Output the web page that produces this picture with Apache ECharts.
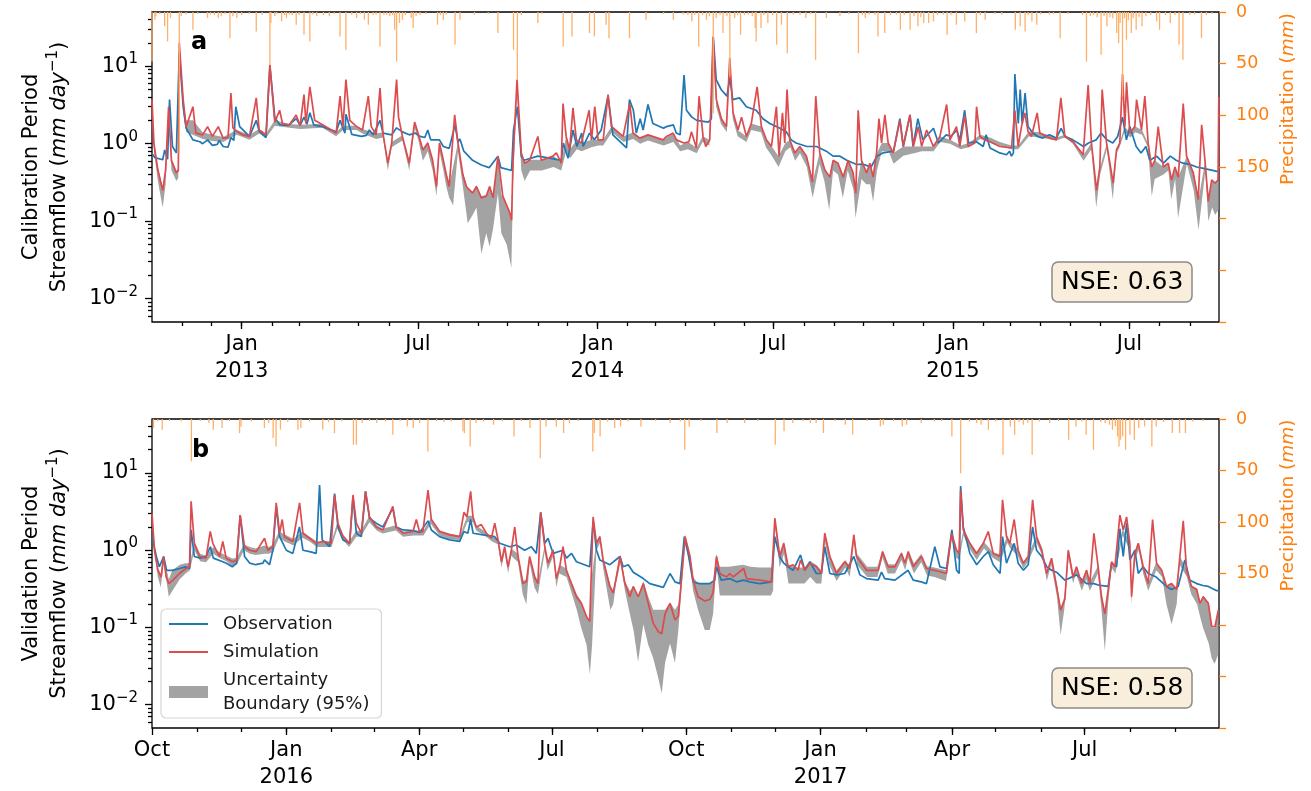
<!DOCTYPE html>
<html lang="en">
<head>
<meta charset="UTF-8">
<title>Streamflow - calibration and validation</title>
<script src="https://cdn.jsdelivr.net/npm/echarts@6/dist/echarts.min.js"></script>
<style>
  html, body { margin: 0; padding: 0; background: #fff; }
  #chart { width: 1311px; height: 791px; }
</style>
</head>
<body>
<div id="chart"></div>
<script>
const DAY = 86400000;
const startA = Date.parse('2012-10-01'), endA = Date.parse('2015-10-01');
const startB = Date.parse('2015-10-01'), endB = Date.parse('2017-10-01');

// streamflow, [day since period start, mm/day]
const obsA = [[0,0.75],[3,0.66],[11,0.62],[13,0.83],[16,0.63],[18,3.7],[21,0.92],[25,0.76],[27,0.76],[28,15],[32,3.0],[35,1.6],[42,1.12],[49,1.06],[52,1.0],[57,1.12],[62,0.95],[67,0.98],[69,1.1],[73,0.92],[78,0.9],[81,1.2],[84,1.1],[86,3.0],[90,1.66],[100,1.24],[107,2.0],[110,1.45],[117,1.2],[119,1.22],[121,10],[126,2.2],[131,1.75],[140,1.72],[148,2.1],[152,1.72],[156,2.2],[159,1.78],[162,2.5],[166,1.75],[175,1.66],[189,1.42],[193,2.0],[198,1.37],[199,2.4],[205,1.32],[215,1.24],[220,1.28],[223,1.5],[227,1.3],[234,2.0],[237,1.37],[246,1.3],[251,1.6],[257,1.42],[264,1.3],[270,1.37],[275,1.24],[280,1.2],[283,1.5],[286,1.12],[295,1.12],[299,0.92],[305,0.87],[311,1.75],[314,1.05],[316,1.15],[320,0.8],[329,0.61],[338,0.53],[346,0.49],[355,0.69],[358,0.49],[369,0.45],[371,1.5],[375,3.0],[379,0.69],[382,0.61],[396,0.69],[408,0.65],[420,0.61],[422,1.02],[427,0.65],[432,1.5],[436,0.92],[441,1.37],[442.5,0.92],[449,1.37],[454,1.12],[461,1.5],[468,4.1],[473,1.3],[487,0.88],[490,3.7],[494,2.7],[497,1.37],[501,2.1],[504,1.5],[509,3.2],[514,1.82],[525,1.58],[528,1.66],[535,1.75],[538,1.37],[542,1.3],[546,7.7],[548.5,2.7],[554,2.2],[559,2.0],[571,1.9],[574,2.1],[576,24],[579,6.7],[584,5.0],[590,4.1],[593,7.0],[596,3.7],[603,3.9],[610,3.0],[620,2.7],[627,2.1],[634,1.82],[641,1.66],[651,1.42],[656,1.12],[661,1.02],[672,0.92],[682,0.92],[692,0.8],[699,0.69],[706,0.69],[713,0.61],[723,0.54],[730,0.54],[738,0.5],[744,0.69],[750,0.76],[761,0.8],[767.5,2.1],[771,0.92],[778,2.35],[781,0.92],[786,2.1],[791,1.12],[802,1.58],[807,1.02],[815,1.3],[820,1.24],[826,1.5],[829,1.1],[834,2.7],[838,1.02],[846,1.06],[853,0.92],[856,1.3],[860,0.88],[870,0.76],[877,0.72],[880,0.8],[882,0.69],[884,0.76],[885.5,7.9],[889,1.82],[891,5.0],[893,1.82],[896,4.5],[899,1.66],[904,1.37],[909,1.24],[914,1.18],[921,1.3],[928,1.18],[933,1.58],[937,1.24],[945,1.12],[956,0.92],[961,1.02],[969,1.12],[974,1.37],[980,1.12],[986,1.02],[991,1.24],[996,2.2],[1000,1.12],[1003.5,1.66],[1010,0.92],[1015,0.76],[1020,0.92],[1024,0.61],[1031,0.69],[1038,0.56],[1045,0.69],[1051,0.61],[1058,0.56],[1065,0.54],[1072,0.5],[1079,0.48],[1086,0.46],[1093,0.44],[1095,0.44]];

const simA = [[0,3.7],[2,1.0],[6,0.46],[11,0.25],[14,0.46],[17,3.0],[20,0.6],[25,0.42],[27,0.45],[28,20],[32,3.7],[35,1.64],[42,3.0],[45,1.37],[52,1.3],[57,1.66],[62,1.24],[68,1.66],[73,1.18],[78,1.2],[81,4.5],[83,1.6],[87,1.45],[93,1.3],[100,1.24],[107,3.9],[110,1.5],[117,1.3],[121,10.4],[126,1.9],[131,2.7],[134,1.8],[141,1.75],[148,2.35],[152,1.7],[156,4.3],[158,1.82],[162,5.4],[167,2.0],[175,1.75],[189,1.37],[193,4.1],[196,1.66],[199,6.7],[203,2.0],[210,1.66],[216,1.5],[222,4.1],[225,1.66],[230,1.3],[234,5.2],[237,1.37],[242,0.56],[246,1.02],[251,6.7],[253,2.2],[257,1.24],[264,0.56],[269.5,1.9],[273,1.37],[278,0.83],[283,1.02],[288,0.61],[292,0.28],[295,1.02],[299,0.61],[302,0.4],[305,0.28],[310.6,2.35],[314,1.02],[319,0.4],[322.5,0.28],[329,0.23],[333,0.28],[338,0.2],[343,0.21],[346.5,0.28],[350,0.2],[355,0.69],[360,0.21],[367,0.13],[369,0.103],[370.5,0.61],[374.6,6.7],[379,0.76],[382.4,0.56],[387.6,0.61],[396,1.24],[399.5,0.61],[411.5,0.69],[415,0.76],[420,0.56],[421.8,3.3],[425,1.24],[428.6,0.83],[432,2.9],[435.5,1.12],[440.7,1.02],[448.6,2.7],[451,1.12],[454.4,3.0],[457.8,1.12],[463,1.12],[468,4.3],[471.5,1.66],[483.5,1.24],[490.3,3.3],[493.7,1.37],[500.6,1.18],[509,1.3],[524.6,1.12],[528,1.24],[534.8,1.37],[538.2,1.12],[545.8,1.02],[551,1.06],[553.6,1.42],[558.7,0.88],[561.4,4.1],[565.5,1.24],[568.3,0.92],[572.4,1.12],[575.8,24],[579.2,3.7],[584.3,2.1],[589.5,1.66],[592.9,12.7],[596.3,2.5],[601.4,1.5],[605,2.2],[610,1.24],[615,1.82],[621,5.4],[625.4,1.66],[630.5,1.12],[635.7,0.92],[640.8,3.0],[643.5,0.69],[647,2.5],[649.4,1.02],[651.7,5.0],[654.5,1.12],[659.6,0.76],[664.8,0.92],[671.6,0.69],[677.8,0.32],[681.2,4.1],[685.3,0.76],[690.4,0.46],[695.6,0.37],[699,0.61],[704,0.56],[709.3,0.37],[714.4,0.61],[719.5,0.42],[722.3,0.23],[724.7,2.7],[728.1,0.61],[733.3,0.42],[736.7,0.56],[740.1,0.37],[743.6,0.76],[746,2.1],[748.7,1.02],[752.1,2.35],[755.5,1.02],[760.7,0.76],[767.5,2.0],[770.9,0.92],[777.8,2.35],[781.3,0.92],[786.4,1.66],[789.8,0.92],[795,1.5],[801.8,0.92],[808.6,1.24],[815.5,3.2],[818.9,1.12],[825.6,1.66],[829,0.92],[834.2,2.35],[837.6,0.92],[844.5,1.02],[846.2,3.0],[849.6,1.24],[854.7,1.12],[859.9,1.06],[870.1,0.92],[882,0.88],[885.5,2.7],[888.9,0.92],[892.3,1.66],[895.7,2.5],[899.1,1.42],[902.5,1.24],[908.4,2.5],[911.1,1.37],[921.4,1.18],[928.2,1.12],[932.7,3.9],[936.8,1.24],[945.3,1.06],[955.6,0.72],[960.7,5.7],[964.1,1.02],[969.3,0.25],[972.7,0.5],[975.1,5.0],[979.6,1.02],[986.4,0.31],[989.8,0.83],[993.2,1.02],[996,7.9],[998.4,1.66],[1000.1,6.2],[1003.5,1.37],[1008.6,1.66],[1010.4,3.7],[1015.5,1.5],[1018.9,4.1],[1022.3,1.02],[1025.8,0.5],[1029.2,0.61],[1032.6,1.66],[1037.8,0.5],[1042.9,0.56],[1046.3,0.34],[1049.8,0.5],[1053.2,0.37],[1058.3,3.3],[1061.7,0.69],[1068.6,0.42],[1073.7,0.19],[1077.2,1.75],[1080.6,0.61],[1084,0.18],[1087.5,0.34],[1090.9,0.31],[1094,0.34],[1094.8,4.0]];

// 95% uncertainty boundary, [day, lower, upper]
const bandA = [[0,2.5,3.7],[2,0.8,1.05],[6,0.33,0.5],[11,0.15,0.27],[14,0.3,0.5],[17,2.5,3.0],[20,0.45,0.65],[25,0.33,0.45],[27,0.36,0.48],[28,15,20],[32,2.5,3.9],[35,1.4,2.0],[42,1.3,2.0],[52,1.15,1.4],[62,1.08,1.3],[73,1.05,1.22],[87,1.3,1.5],[100,1.12,1.3],[110,1.35,1.55],[117,1.18,1.35],[126,1.7,2.0],[141,1.6,1.8],[152,1.55,1.75],[175,1.6,1.8],[189,1.25,1.4],[196,1.5,1.7],[210,1.5,1.7],[216,1.35,1.55],[230,1.15,1.35],[237,1.2,1.4],[242,0.45,0.6],[246,0.9,1.05],[257,1.1,1.28],[264,0.45,0.6],[269.5,1.6,1.95],[273,1.15,1.4],[278,0.6,0.86],[283,0.8,1.05],[288,0.45,0.63],[292,0.21,0.3],[295,0.8,1.05],[299,0.45,0.63],[302,0.28,0.42],[305,0.2,0.3],[309,0.16,0.5],[314,0.8,1.05],[319,0.28,0.42],[324,0.094,0.27],[329,0.12,0.24],[333,0.15,0.29],[338,0.038,0.21],[343,0.07,0.22],[346.5,0.047,0.29],[350,0.08,0.21],[355,0.23,0.7],[358.5,0.07,0.22],[364,0.05,0.16],[368.8,0.025,0.12],[370.5,0.3,0.62],[374.6,5,6.7],[379,0.45,0.78],[382.4,0.33,0.57],[388,0.45,0.62],[400,0.45,0.62],[412,0.5,0.7],[420,0.45,0.57],[425,0.8,1.25],[429,0.65,0.85],[436,0.85,1.12],[441,0.8,1.02],[451,0.9,1.12],[458,0.95,1.12],[463,0.95,1.12],[472,1.4,1.7],[484,1.05,1.25],[494,1.15,1.4],[501,1.0,1.2],[509,1.1,1.3],[525,0.95,1.12],[535,1.05,1.37],[542,0.8,0.95],[550,0.85,1.06],[559,0.75,0.88],[565,1.05,1.25],[572,0.95,1.12],[575.8,18,24],[579,3.0,3.7],[584,1.8,2.1],[590,1.4,1.66],[593,10,12.7],[596,2.1,2.5],[601,1.25,1.5],[610,1.05,1.24],[615,1.5,1.82],[625,1.4,1.66],[630,0.9,1.12],[636,0.7,0.92],[643,0.5,0.69],[650,0.8,1.02],[655,0.9,1.12],[660,0.6,0.76],[665,0.75,0.92],[672,0.5,0.69],[678,0.2,0.32],[685,0.55,0.76],[690,0.33,0.46],[695,0.14,0.37],[699,0.45,0.61],[704,0.4,0.56],[709,0.2,0.37],[714,0.45,0.61],[720,0.25,0.42],[722,0.11,0.23],[728,0.35,0.61],[733,0.3,0.42],[737,0.3,0.56],[740,0.18,0.37],[744,0.45,0.76],[749,0.8,1.02],[756,0.8,1.02],[761,0.55,0.76],[771,0.7,0.92],[782,0.75,0.92],[790,0.8,0.92],[802,0.8,0.92],[809,1.05,1.24],[819,1.0,1.12],[830,0.85,0.95],[838,0.9,1.02],[850,1.15,1.3],[860,1.05,1.2],[870,0.95,1.05],[882,0.85,0.95],[889,0.85,0.95],[900,1.25,1.45],[911,1.2,1.4],[928,1.1,1.2],[937,1.2,1.3],[945,1.0,1.1],[956,0.6,0.72],[964,0.85,1.02],[969,0.15,0.25],[973,0.4,0.5],[980,0.85,1.02],[986,0.19,0.31],[990,0.75,0.88],[993,0.9,1.02],[998,1.4,1.66],[1004,1.2,1.37],[1009,1.4,1.66],[1016,1.3,1.5],[1022,0.9,1.02],[1026,0.21,0.5],[1029,0.35,0.61],[1038,0.4,0.5],[1043,0.45,0.56],[1046,0.19,0.34],[1050,0.35,0.5],[1053,0.11,0.37],[1062,0.55,0.69],[1069,0.25,0.42],[1074,0.077,0.19],[1081,0.45,0.61],[1084,0.1,0.18],[1088,0.15,0.34],[1091,0.12,0.31],[1094.5,0.14,0.34]];

// daily precipitation, [day, mm]
const rainA = [[0,48],[3,7.5],[4,4.2],[8,2],[13,13.9],[16,28.5],[19,5.8],[28,137],[30,4.2],[35,2.5],[42,17.2],[47,2],[57,5.8],[60,2.5],[64,3],[68,5.8],[71,4.2],[75,2],[80,25.3],[83,4.2],[87,5.8],[92,3],[100,2],[107,18.8],[113,3],[121,51],[122,10.7],[126,4],[128,2],[133,9.1],[136,3],[138,5.8],[141,2.5],[144,3],[148,12.3],[151,3],[156,22],[162,28.5],[165,2.5],[169,4.2],[176,3],[182,4.2],[187,2],[193,23.6],[199,36.6],[205,3],[210,5.8],[214,2],[218,7.5],[222,12.3],[227,3],[230,2.5],[234,33.3],[238,3],[241,2.5],[244,4.2],[247,3],[249,17.2],[251,48],[254,10.7],[257,7.5],[260,3],[266,5.8],[268,15.6],[271,4.2],[275,2.6],[281,2],[293,12.3],[296,3],[299,7.5],[302,2.5],[311,31.7],[316,7.5],[331,2.6],[345,2],[355,20.4],[371,36.6],[375,66],[379,3],[396,10.7],[400,2],[422,33.3],[431,23.6],[449,20.4],[454,23.6],[466,12.3],[469,25.3],[490,25.3],[507,7.5],[525,2],[535,7.5],[545,2.5],[550,3],[554,9.1],[557,3],[561,33.3],[565,3],[569,7.5],[572,4],[576,98],[579,5.8],[583,3],[586,20.4],[590,4],[593,62],[598,5.8],[601,3],[604,22],[608,3],[612,2.5],[616,4],[619,15.6],[620,28.5],[625,15.6],[628,3],[632,10.7],[637,3],[641,31.7],[646,12.3],[652,39.8],[658,2.5],[665,3],[671,5.8],[676,2],[681,46.3],[692,5.8],[706,4.2],[715,2],[725,39.8],[729,3],[732,5.8],[736,2.5],[742,3],[745,23.6],[752,20.4],[758,3],[764,2.5],[768,17.2],[772,3],[778,17.2],[782,4],[786,13.9],[789,5],[792,10.7],[797,10.7],[802,9.1],[806,3],[812,2.5],[816,22],[820,3],[825.5,12.3],[834,9.1],[846,20.4],[850,3],[855,7.5],[865,2],[872,2.5],[886,17.2],[891,13.9],[896,18.8],[899,3],[903,9.1],[908,12.3],[912,2.5],[921,2.6],[925,2],[932,25.3],[940,2],[955,3],[959,48],[963,4],[966,3],[970,5],[974,41.4],[977,4],[980,13.9],[983,5],[986,6],[990,20.4],[992,30.1],[993.5,10.7],[996,82],[998,6],[1000,26.8],[1002,8],[1005,20.4],[1007,6],[1010,17.2],[1013,5],[1016,13.9],[1020,4],[1025,3],[1031,9.1],[1034,17.2],[1040,3],[1045,10.7],[1050,3],[1054,31.7],[1058,46.3],[1065,3],[1070,2.5],[1077,25.3],[1082,3],[1088,2]];

const obsB = [[0,1.5],[3,0.83],[5,0.61],[8,0.83],[10,0.55],[14,0.55],[19,0.58],[23,0.61],[25.7,0.58],[26.8,1.83],[29,0.83],[33,0.79],[37,0.83],[40,1.11],[42,0.79],[48.5,0.71],[51,0.68],[55,0.61],[58,0.68],[60.4,2.85],[63.4,0.83],[67,0.68],[71,0.65],[76,0.68],[77.1,0.75],[80.5,0.65],[82.8,1.0],[85.1,3.7],[87.4,1.5],[89.7,1.23],[92,1.0],[96.5,0.91],[101,2.0],[103.4,1.0],[108,0.96],[112.5,0.91],[114.8,7.0],[116.6,1.36],[119.4,1.23],[121.7,1.11],[125.1,5.4],[127.4,2.0],[130.8,1.36],[135.4,1.23],[137.7,4.9],[140,1.66],[143.4,1.5],[146.3,5.8],[149,2.6],[153.6,2.24],[158.2,2.0],[165,3.5],[167.3,2.0],[172,1.83],[178.8,1.8],[183.4,1.7],[189.1,2.4],[191.4,1.83],[197,1.5],[204,1.36],[210.8,1.3],[213.7,1.75],[216.4,1.66],[218.3,2.5],[220,1.66],[226.8,1.58],[234.8,1.5],[238.2,1.23],[245.1,1.11],[249.6,1.17],[255.3,1.0],[259.9,1.11],[263.3,0.91],[266.3,3.1],[269.1,1.23],[271.3,1.43],[274.8,0.91],[281.6,1.0],[283.9,0.79],[287.4,0.91],[290.8,0.71],[299.9,0.61],[302.2,2.4],[304.5,1.0],[306.8,0.75],[313.7,0.65],[320.6,0.83],[322.8,0.61],[326.3,0.65],[329.7,0.52],[336.6,0.43],[341,0.37],[350.3,0.33],[354.9,0.5],[358.3,0.39],[361.7,0.37],[364.7,1.5],[367.3,0.91],[370.7,0.39],[375,0.37],[382,0.37],[385.5,0.41],[386.7,0.61],[390,0.41],[395.8,0.43],[400.4,0.39],[405.4,0.41],[409.5,0.39],[416.4,0.37],[424.4,0.39],[426.7,1.5],[430,0.83],[432.8,0.68],[435.8,0.61],[439.2,0.55],[444.3,0.87],[447.2,0.55],[450.7,0.71],[455.2,0.5],[458.6,0.5],[460.9,1.11],[464.4,0.5],[469,0.48],[474.6,0.5],[480.8,0.83],[485,0.48],[489.5,0.43],[497.5,0.41],[499.8,0.52],[502,0.43],[509,0.41],[518,0.55],[521.5,0.41],[527,0.39],[530.6,0.37],[536.3,1.11],[539.8,0.61],[544.3,0.58],[548,1.83],[551.2,0.55],[553,0.5],[554,6.8],[555.8,2.0],[560.3,0.91],[565,0.65],[569.5,0.83],[573,0.96],[576.3,0.65],[581,0.5],[582.7,1.5],[585.4,0.68],[590.7,1.23],[593.4,0.68],[597,0.55],[600.3,0.65],[603.3,2.0],[606,1.0],[609.5,0.83],[613,0.61],[616.3,0.55],[619.7,0.52],[625.4,0.41],[633.4,0.48],[640.3,0.37],[645.3,0.37],[649.4,0.35],[655.1,0.34],[657.4,0.68],[660.8,0.61],[663.1,1.9],[665.4,0.83],[667.7,2.24],[670,0.75],[673.4,1.0],[675.7,0.5],[679,0.61],[682.5,0.5],[688,0.45],[695,0.34],[698.5,0.31],[703,0.34],[707.6,0.75],[711,0.41],[715.7,0.37],[720,0.35],[723.7,0.34],[729.4,0.3],[731,0.3]];

const simB = [[0,3.0],[1.7,1.0],[4,0.55],[6.3,0.45],[7.9,0.83],[9.7,0.45],[11.5,0.37],[14.3,0.41],[18.8,0.5],[23.4,0.58],[25.7,0.61],[26.8,4.3],[29,1.23],[32.6,0.83],[37,0.79],[39.9,1.75],[41.7,1.23],[44,1.0],[46.3,0.83],[48.5,1.3],[50.8,0.79],[55.4,0.71],[58,0.75],[60.4,2.85],[63.4,1.11],[66.8,1.0],[71.4,0.96],[77.1,1.43],[79.4,1.0],[82.8,1.11],[85.1,4.1],[87.4,1.66],[89.2,2.5],[90.8,1.5],[96.5,1.3],[101.1,4.1],[103.4,1.66],[108,1.43],[112.5,1.23],[117,1.3],[122.8,1.23],[125.1,5.2],[127.4,2.24],[130.8,1.5],[135.4,1.23],[137.7,5.2],[140,2.24],[143.4,1.66],[146.3,5.8],[149,2.7],[153.6,2.0],[158.2,1.83],[165,3.7],[167.3,2.0],[172,1.66],[178.8,1.75],[181.1,2.5],[183.4,1.7],[185.6,1.75],[189.1,6.0],[191.4,2.5],[197.1,1.75],[203.9,1.58],[210.8,1.5],[213.7,3.1],[215.8,2.7],[218.3,5.8],[219.9,2.7],[222.2,2.0],[225.6,2.15],[229.1,1.66],[232.5,1.43],[234.8,2.24],[237.1,1.36],[239.4,0.71],[241.6,1.11],[243.9,0.61],[246.2,1.0],[248.5,2.0],[250.8,0.83],[254.2,0.37],[256.5,0.39],[258.7,0.83],[262.2,0.45],[264.4,0.37],[266.3,3.1],[269.1,1.11],[271.3,0.68],[274.8,1.0],[277,0.43],[279.3,0.61],[281.6,1.11],[283.9,0.55],[287.4,0.37],[290.8,0.25],[294.2,0.205],[297.7,0.138],[299.9,0.12],[302.2,2.7],[304.5,1.23],[306.8,1.5],[309.1,0.75],[313.7,0.34],[315.9,0.28],[318.2,0.45],[320.6,0.83],[324,0.37],[327.4,0.25],[329.7,0.34],[333.1,0.25],[336.6,0.37],[340,0.205],[343.4,0.113],[346.9,0.088],[349.2,0.083],[351.5,0.15],[354.9,0.205],[358.3,0.125],[360.6,0.14],[362.9,0.45],[365.2,1.5],[368.6,0.83],[370.7,0.41],[374.1,0.25],[378.7,0.22],[382.1,0.23],[384.4,0.28],[386.7,0.83],[389,0.5],[393.6,0.45],[395.8,0.5],[398.1,0.45],[405.4,0.58],[407.3,0.43],[416.4,0.41],[424.4,0.39],[426.7,2.6],[430.1,0.83],[432.8,1.23],[435.8,0.61],[439.2,0.65],[442.6,0.55],[444.3,0.75],[447.2,0.55],[450.7,0.68],[455.2,0.61],[458.6,0.5],[460.9,1.66],[464.4,0.83],[468.9,0.5],[474.6,0.71],[478.1,0.58],[480.8,1.58],[482.6,0.83],[489.5,0.55],[497.5,0.55],[500.5,0.96],[504.4,0.61],[508.9,0.61],[513.5,0.91],[515.8,0.68],[518.1,0.96],[521.5,0.61],[527.2,0.83],[530.6,0.58],[536.3,0.55],[544.3,0.5],[547.8,1.66],[551.2,1.0],[553,0.91],[554,6.0],[555.8,1.83],[560.3,1.23],[564.9,0.91],[569.5,1.23],[572.9,1.75],[576.3,0.91],[580.9,0.83],[582.7,4.5],[585.4,1.5],[587.7,1.23],[590.7,2.5],[593.4,1.0],[596.9,0.68],[600.3,0.83],[603.3,4.5],[606,1.5],[609.5,1.0],[612.9,0.5],[616.3,0.79],[619.7,0.34],[622.5,0.168],[625.4,0.23],[627.7,1.0],[631.1,0.45],[633.4,0.61],[636.8,0.37],[640.3,0.55],[642.5,0.37],[645.3,1.66],[648.2,0.61],[650.5,0.25],[652.8,0.15],[655.1,0.31],[657.4,0.71],[659.7,0.61],[663.1,2.85],[665.4,1.83],[667.7,2.7],[669.9,1.23],[671.1,0.25],[673.4,0.91],[675.7,1.23],[679.1,0.61],[682.5,0.37],[685.5,2.5],[688.2,0.68],[691.7,0.55],[695.1,0.34],[698.5,0.37],[702,0.31],[704.2,0.83],[706.5,2.4],[708.8,0.55],[712.2,0.34],[715.7,0.31],[718,0.205],[720.2,0.25],[723.7,0.205],[726,0.103],[728.3,0.103],[730.5,0.168]];

const bandB = [[0,2.5,3.0],[2,0.85,1.05],[4,0.45,0.6],[6,0.33,0.5],[8,0.7,0.85],[11.5,0.25,0.42],[14,0.3,0.55],[19,0.42,0.65],[23,0.5,0.68],[26,0.55,0.68],[29,1.0,1.3],[33,0.72,0.9],[37,0.7,0.85],[42,0.9,1.1],[46,0.8,0.95],[51,0.72,0.85],[55,0.62,0.78],[58,0.65,0.8],[63,1.0,1.2],[67,0.9,1.1],[71,0.87,1.05],[77,0.9,1.15],[80,0.9,1.1],[83,0.95,1.2],[87,1.45,1.75],[91,1.3,1.6],[97,1.15,1.4],[103,1.45,1.75],[108,1.3,1.5],[113,1.1,1.3],[117,1.1,1.3],[123,1.1,1.3],[127,1.9,2.3],[131,1.35,1.6],[135,1.1,1.3],[140,1.5,1.8],[143,1.5,1.75],[149,2.3,2.8],[154,1.8,2.1],[158,1.65,1.9],[167,1.8,2.1],[172,1.5,1.75],[179,1.55,1.8],[186,1.55,1.8],[191,2.2,2.6],[197,1.55,1.8],[204,1.4,1.65],[211,1.35,1.55],[216,2.3,2.8],[220,2.3,2.8],[222,1.8,2.1],[229,1.5,1.7],[233,1.3,1.5],[237,1.2,1.4],[239.4,0.6,0.75],[241.6,0.95,1.15],[244,0.5,0.65],[246,0.85,1.05],[250.8,0.7,0.9],[254,0.27,0.4],[256.5,0.2,0.42],[258.7,0.7,0.85],[262,0.33,0.48],[264.4,0.27,0.4],[269,0.95,1.15],[271,0.55,0.72],[275,0.85,1.05],[277,0.33,0.45],[279,0.5,0.65],[284,0.45,0.58],[287,0.3,0.4],[291,0.17,0.27],[294,0.1,0.22],[297.7,0.06,0.14],[300,0.025,0.12],[301.5,0.06,0.5],[304.5,1.0,1.3],[307,1.25,1.55],[309,0.6,0.8],[314,0.17,0.35],[316,0.2,0.3],[318,0.38,0.5],[321,0.7,0.88],[324,0.3,0.4],[327.4,0.15,0.3],[330,0.09,0.34],[333,0.036,0.25],[336.6,0.11,0.4],[340,0.06,0.25],[343.4,0.04,0.17],[346.9,0.022,0.17],[349.2,0.014,0.17],[351.5,0.035,0.17],[354.9,0.062,0.21],[358.3,0.035,0.17],[360.6,0.093,0.2],[362.9,0.35,0.5],[365.2,1.2,1.6],[368.6,0.65,0.9],[370.7,0.3,0.45],[374.1,0.17,0.37],[378.7,0.093,0.37],[382.1,0.093,0.37],[384.4,0.15,0.4],[386.7,0.65,0.9],[389,0.26,0.61],[395,0.26,0.61],[405,0.26,0.65],[410,0.26,0.61],[416,0.26,0.6],[424,0.26,0.6],[425.5,0.3,0.6],[426.7,2.1,2.7],[430,0.6,0.9],[433,0.9,1.3],[436,0.37,0.65],[442.6,0.37,0.6],[447,0.37,0.6],[451,0.45,0.72],[455,0.37,0.65],[458.6,0.37,0.55],[461,1.3,1.75],[464,0.65,0.9],[469,0.4,0.55],[475,0.6,0.75],[478,0.45,0.62],[481,1.3,1.66],[483,0.65,0.9],[490,0.45,0.61],[497,0.45,0.61],[500.5,0.8,1.0],[504,0.5,0.66],[509,0.5,0.66],[513.5,0.75,0.95],[516,0.55,0.72],[518,0.8,1.0],[522,0.5,0.68],[527,0.7,0.9],[531,0.47,0.62],[536,0.45,0.6],[544,0.4,0.55],[547.8,1.4,1.8],[551,0.8,1.05],[553,0.75,0.95],[556,1.55,1.9],[560,1.05,1.3],[565,0.75,0.95],[570,1.05,1.28],[576,0.8,0.95],[581,0.7,0.88],[586,1.25,1.55],[588,1.05,1.28],[593,0.85,1.05],[597,0.58,0.7],[600,0.7,0.85],[606,1.25,1.55],[610,0.85,1.05],[613,0.4,0.52],[616,0.65,0.8],[620,0.25,0.36],[622.5,0.08,0.18],[625,0.17,0.25],[628,0.8,1.05],[631,0.37,0.47],[633,0.5,0.62],[637,0.3,0.39],[640,0.42,0.57],[642.5,0.3,0.39],[648,0.5,0.62],[650.5,0.17,0.27],[652.8,0.05,0.16],[655,0.2,0.32],[657.4,0.6,0.72],[660,0.5,0.62],[665,1.55,1.9],[670,1.0,1.25],[671,0.2,0.27],[673,0.75,0.95],[676,1.0,1.25],[679,0.5,0.62],[682.5,0.3,0.38],[688,0.55,0.7],[692,0.45,0.56],[695,0.2,0.35],[698.5,0.11,0.38],[702,0.2,0.32],[704,0.65,0.85],[709,0.45,0.56],[712,0.27,0.35],[716,0.2,0.32],[718,0.14,0.21],[720,0.1,0.26],[724,0.062,0.21],[726,0.04,0.1],[728,0.034,0.1],[730.5,0.045,0.17]];

const rainB = [[1,8.8],[4,2.5],[7,10.4],[12,2],[20,2.5],[27,41.2],[33,2],[39,3.9],[42,10.4],[48,8.8],[53,2],[60,13.7],[61,7.2],[68,2.5],[77,8.8],[80,4],[83,18.5],[85,26.6],[88,10.4],[93,3],[100,10.4],[102,8.8],[108,2.5],[117,10.4],[121,3],[125,13.7],[130,2.5],[138,25],[140,25],[144,3.9],[149,2],[154,3.9],[160,2.5],[165,15.3],[170,2],[175,7.2],[179,8.8],[183.4,3.9],[189,31.5],[195,2],[200,3],[205,2.5],[213,12],[214,13.7],[218,26.6],[222,3.9],[227,2.5],[234,5.6],[240,2.5],[248,16.9],[253,2],[259,8.8],[266,38],[270,7.2],[277,7.2],[282,13.7],[286,3.9],[292,2],[302,31.5],[303,13.7],[307,16.9],[312,2.5],[317,8.8],[321,7.2],[326,2.5],[335,7.2],[345,2],[355,3.9],[362,2.5],[365,29.9],[368,7.2],[376,2],[387,13.7],[394,3.9],[406,3.9],[415,2],[427,25],[433,12],[439,3.9],[446,2],[451,3.9],[455,3.9],[460,13.7],[468,2],[475,5.6],[480,15.3],[490,2],[499,7.2],[501,5.6],[508,2],[514,7.2],[517,5.6],[527,3.9],[536,2.5],[541,2],[548,16.9],[554,52.6],[560,2.5],[565,3.9],[568,5.6],[573,10.4],[578,2.5],[583,34.7],[588,7.2],[591,15.3],[594,3],[597,5.6],[600,3.9],[603,34.7],[608,2.5],[615,3.9],[621,2],[628,20.1],[633,7.2],[637,2.5],[640,15.3],[645,29.9],[650,3],[653,4],[656,5.6],[658,10.4],[660,7],[661.5,16.9],[662.5,26.6],[663.5,20.1],[665,16.9],[667,29.9],[670,15.3],[673,20.1],[676,8.8],[680,7.2],[685,26.6],[688,7.2],[693,3],[699,13.7],[704,13.7],[708,13.7],[713,2.5],[720,2]];

// axis ticks
const majorTicksA = ['2013-01-01','2013-07-01','2014-01-01','2014-07-01','2015-01-01','2015-07-01'];
const majorTicksB = ['2015-10-01','2016-01-01','2016-04-01','2016-07-01','2016-10-01','2017-01-01','2017-04-01','2017-07-01'];
const logMajor = [0.01, 0.1, 1, 10];
const logMinor = [0.006,0.007,0.008,0.009,0.02,0.03,0.04,0.05,0.06,0.07,0.08,0.09,0.2,0.3,0.4,0.5,0.6,0.7,0.8,0.9,2,3,4,5,6,7,8,9,20,30,40];
const MONTHS = ['Jan','Feb','Mar','Apr','May','Jun','Jul','Aug','Sep','Oct','Nov','Dec'];

const BLUE = '#1f77b4', RED = '#dc4c4f', GREY = '#a3a3a3', RAIN = '#ffb06a', ORANGE = '#ff7f0e';
const BAND = 'Uncertainty\nBoundary (95%)';

function toTime(start, rows) {
  return rows.map(r => [start + r[0] * DAY].concat(r.slice(1)));
}
function monthly(first, n) {
  const d = new Date(first), out = [];
  for (let i = 0; i < n; i++) out.push(Date.UTC(d.getUTCFullYear(), d.getUTCMonth() + i, 1));
  return out;
}
function monthLabel(v) {
  const d = new Date(v);
  if (d.getUTCDate() !== 1 || d.getUTCHours() !== 0) return '';
  const m = d.getUTCMonth();
  return m === 0 ? 'Jan\n' + d.getUTCFullYear() : MONTHS[m];
}
function powLabel(v) {
  const l = Math.log10(v), e = Math.round(l);
  if (Math.abs(l - e) > 1e-6) return '';
  return '10{s|' + (e < 0 ? '\u2212' + (-e) : e) + '}';
}

const tickLine = { color: '#000', width: 1.3 };

// x axes are plain value axes holding timestamps (ms)
function xAxes(g, start, end, majors, minors) {
  return [{
    type: 'value', gridIndex: g, min: start, max: end, position: 'bottom', scale: true,
    axisLine: { show: false, onZero: false },
    axisTick: { show: true, length: 7, lineStyle: tickLine, customValues: majors },
    axisLabel: { customValues: majors, formatter: monthLabel, fontSize: 21, lineHeight: 27, color: '#000', margin: 9 },
    splitLine: { show: false }
  }, {
    type: 'value', gridIndex: g, min: start, max: end, position: 'bottom', scale: true,
    axisLine: { show: false, onZero: false },
    axisTick: { show: true, length: 4, lineStyle: tickLine, customValues: minors },
    axisLabel: { show: false },
    splitLine: { show: false }
  }];
}

function yAxes(g, title) {
  return [{
    type: 'log', logBase: 10, gridIndex: g, min: 0.005, max: 50, position: 'left',
    axisLine: { show: false, onZero: false },
    axisTick: { show: true, length: 7, lineStyle: tickLine, customValues: logMajor },
    axisLabel: {
      customValues: logMajor, formatter: powLabel, fontSize: 21, lineHeight: 29, color: '#000', margin: 14,
      rich: { s: { fontSize: 15, lineHeight: 15, padding: [0, 0, 14, 0], color: '#000' } }
    },
    splitLine: { show: false },
    name: '{t|' + title + '}\n{t|Streamflow (}{i|mm day}{s|\u22121}{t|)}',
    nameLocation: 'middle', nameGap: 78, nameRotate: 90, nameMoveOverlap: false,
    nameTextStyle: {
      color: '#000',
      rich: {
        t: { fontSize: 21, lineHeight: 28, color: '#000' },
        i: { fontSize: 21, lineHeight: 28, fontStyle: 'italic', color: '#000' },
        s: { fontSize: 15, lineHeight: 15, padding: [0, 0, 13, 0], color: '#000' }
      }
    }
  }, {
    type: 'log', logBase: 10, gridIndex: g, min: 0.005, max: 50, position: 'left',
    axisLine: { show: false, onZero: false },
    axisTick: { show: true, length: 4, lineStyle: tickLine, customValues: logMinor },
    axisLabel: { show: false },
    splitLine: { show: false }
  }, {
    type: 'value', gridIndex: g, min: 0, max: 300, interval: 50, inverse: true, position: 'right',
    axisLine: { show: false, onZero: false },
    axisTick: { show: true, length: 7, lineStyle: { color: ORANGE, width: 1.3 } },
    axisLabel: { formatter: v => (v <= 150 ? String(v) : ''), fontSize: 17.5, color: ORANGE, margin: 17 },
    splitLine: { show: false },
    name: '{t|Precipitation (}{i|mm}{t|)}',
    nameLocation: 'middle', nameGap: 60, nameRotate: 90, nameMoveOverlap: false,
    nameTextStyle: {
      padding: [0, 0, 0, 136],
      rich: {
        t: { fontSize: 18.5, color: ORANGE },
        i: { fontSize: 18.5, fontStyle: 'italic', color: ORANGE }
      }
    }
  }];
}

function panelSeries(g, start, obs, sim, band, rain) {
  const xi = 2 * g, yi = 3 * g;
  const bandData = toTime(start, band);
  return [{
    name: BAND, type: 'custom', xAxisIndex: xi, yAxisIndex: yi, data: bandData,
    encode: { x: 0, y: [1, 2] }, itemStyle: { color: GREY }, z: 2, silent: true,
    renderItem: function (params, api) {
      if (params.dataIndex !== 0) return null;
      const upper = bandData.map(d => api.coord([d[0], d[2]]));
      const lower = bandData.map(d => api.coord([d[0], d[1]])).reverse();
      return { type: 'polygon', shape: { points: upper.concat(lower) }, style: { fill: GREY } };
    }
  }, {
    name: 'Observation', type: 'line', xAxisIndex: xi, yAxisIndex: yi, data: toTime(start, obs),
    symbol: 'none', showSymbol: false, lineStyle: { width: 1.7, color: BLUE }, itemStyle: { color: BLUE }, z: 3, silent: true
  }, {
    name: 'Simulation', type: 'line', xAxisIndex: xi, yAxisIndex: yi, data: toTime(start, sim),
    symbol: 'none', showSymbol: false, lineStyle: { width: 1.7, color: RED }, itemStyle: { color: RED }, z: 4, silent: true
  }, {
    name: 'Precipitation', type: 'bar', xAxisIndex: xi, yAxisIndex: yi + 2, data: toTime(start, rain),
    barWidth: 1.3, itemStyle: { color: RAIN }, z: 5, silent: true
  }];
}

const nseBox = {
  padding: [5, 9], backgroundColor: '#f8eedb', borderColor: '#8a8a8a', borderWidth: 1.5, borderRadius: 6,
  textStyle: { fontSize: 25, lineHeight: 30, fontWeight: 'normal', color: '#000' }
};
const letter = { padding: 0, textStyle: { fontSize: 24, lineHeight: 24, fontWeight: 'bold', color: '#000' } };

const option = {
  animation: false,
  textStyle: { fontFamily: 'DejaVu Sans' },
  grid: [
    { left: 152, top: 12, width: 1067, height: 310, show: true, borderColor: '#000', borderWidth: 1.3, backgroundColor: 'transparent', outerBoundsMode: 'none' },
    { left: 152, top: 419, width: 1067, height: 309, show: true, borderColor: '#000', borderWidth: 1.3, backgroundColor: 'transparent', outerBoundsMode: 'none' }
  ],
  title: [
    Object.assign({ text: 'a', left: 191, top: 31 }, letter),
    Object.assign({ text: 'b', left: 192, top: 439 }, letter),
    Object.assign({ text: 'NSE: 0.63', left: 1052, top: 262 }, nseBox),
    Object.assign({ text: 'NSE: 0.58', left: 1052, top: 668 }, nseBox)
  ],
  legend: {
    left: 161, top: 609, orient: 'vertical', itemWidth: 39, itemHeight: 12, itemGap: 4,
    padding: [3, 12, 2, 7], backgroundColor: '#fff', borderColor: '#d5d5d5', borderWidth: 1.2, borderRadius: 5,
    selectedMode: false,
    textStyle: { fontSize: 18, lineHeight: 24, color: '#1a1a1a', padding: [0, 0, 0, 10] },
    data: [
      { name: 'Observation', itemStyle: { opacity: 0 } },
      { name: 'Simulation', itemStyle: { opacity: 0 } },
      { name: BAND, icon: 'rect' }
    ]
  },
  xAxis: [].concat(
    xAxes(0, startA, endA, majorTicksA.map(Date.parse), monthly('2012-11-01', 35)),
    xAxes(1, startB, endB, majorTicksB.map(Date.parse), monthly('2015-11-01', 23))
  ),
  yAxis: [].concat(yAxes(0, 'Calibration Period'), yAxes(1, 'Validation Period')),
  series: [].concat(
    panelSeries(0, startA, obsA, simA, bandA, rainA),
    panelSeries(1, startB, obsB, simB, bandB, rainB)
  )
};

const chart = echarts.init(document.getElementById('chart'), null, { renderer: 'canvas' });
chart.setOption(option);
</script>
</body>
</html>
